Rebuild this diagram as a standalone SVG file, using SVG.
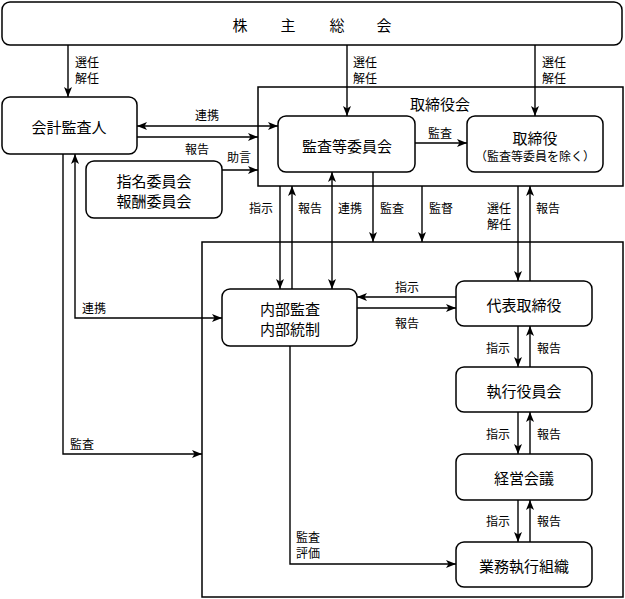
<svg xmlns="http://www.w3.org/2000/svg" width="625" height="599" viewBox="0 0 625 599">
<style>
.box{fill:#fff;stroke:#000;stroke-width:1.5}
.frame{fill:none;stroke:#000;stroke-width:1.5}
.n{font-family:"Noto Sans CJK JP","Noto Sans",sans-serif;font-size:15px;fill:#000;text-anchor:middle;dominant-baseline:central}
.l{font-family:"Noto Sans CJK JP","Noto Sans",sans-serif;font-size:12px;fill:#000;text-anchor:middle;dominant-baseline:central}
.ls{text-anchor:start}
.c{fill:none;stroke:#000;stroke-width:1.4}
.a{marker-end:url(#ah)}
.d{marker-start:url(#ah);marker-end:url(#ah)}
</style>
<defs>
<marker id="ah" viewBox="0 0 10 10" refX="10" refY="5" markerWidth="10" markerHeight="10" markerUnits="userSpaceOnUse" orient="auto-start-reverse">
<path d="M0,1 L10,5 L0,9 L2.5,5 z" fill="#000"/>
</marker>
</defs>

<g id="frames">
<g id="torishimariyakukai">
<rect class="frame" x="258" y="87" width="365" height="99"/>
<text class="n" x="440" y="103">取締役会</text>
</g>
<g id="executive-area">
<rect class="frame" x="202" y="242" width="421" height="355"/>
</g>
</g>

<g id="connectors">
<path class="c a" d="M68,45 V97"/>
<path class="c a" d="M347,45 V116"/>
<path class="c a" d="M535,45 V116"/>
<path class="c d" d="M137,126 H278"/>
<path class="c a" d="M137,137 H258"/>
<path class="c a" d="M222,170 H258"/>
<path class="c a" d="M415,143 H467"/>
<path class="c a" d="M280,186 V289"/>
<path class="c a" d="M292,289 V186"/>
<path class="c d" d="M332,172 V289"/>
<path class="c a" d="M373,172 V242"/>
<path class="c a" d="M422,186 V242"/>
<path class="c a" d="M518,186 V281"/>
<path class="c a" d="M530,281 V186"/>
<path class="c a" d="M456,297 H357"/>
<path class="c a" d="M357,308 H456"/>
<path class="c a" d="M518,326 V367"/>
<path class="c a" d="M530,367 V326"/>
<path class="c a" d="M518,412 V454"/>
<path class="c a" d="M530,454 V412"/>
<path class="c a" d="M518,500 V542"/>
<path class="c a" d="M530,542 V500"/>
<path class="c a" d="M290,346 V564 H456"/>
<path class="c d" d="M75,154 V318 H222"/>
<path class="c a" d="M63,154 V454 H202"/>

<text class="l ls" x="75" y="61">選任</text>
<text class="l ls" x="75" y="77">解任</text>
<text class="l ls" x="353" y="61">選任</text>
<text class="l ls" x="353" y="77">解任</text>
<text class="l ls" x="542" y="61">選任</text>
<text class="l ls" x="542" y="77">解任</text>
<text class="l" x="207" y="114">連携</text>
<text class="l" x="197" y="148">報告</text>
<text class="l" x="239" y="156">助言</text>
<text class="l" x="440" y="132">監査</text>
<text class="l" x="261" y="207">指示</text>
<text class="l" x="310" y="207">報告</text>
<text class="l" x="350" y="207">連携</text>
<text class="l" x="392" y="207">監査</text>
<text class="l" x="441" y="207">監督</text>
<text class="l" x="499" y="207">選任</text>
<text class="l" x="499" y="223">解任</text>
<text class="l" x="548" y="207">報告</text>
<text class="l" x="407" y="286">指示</text>
<text class="l" x="407" y="322">報告</text>
<text class="l" x="498" y="347">指示</text>
<text class="l" x="549" y="347">報告</text>
<text class="l" x="498" y="433">指示</text>
<text class="l" x="549" y="433">報告</text>
<text class="l" x="498" y="520">指示</text>
<text class="l" x="549" y="520">報告</text>
<text class="l ls" x="296" y="536">監査</text>
<text class="l ls" x="296" y="552">評価</text>
<text class="l" x="94" y="307">連携</text>
<text class="l" x="82" y="443">監査</text>
</g>

<g id="kabunushi-sokai">
<rect class="box" x="2" y="2" width="620" height="43" rx="8"/>
<text class="n" x="240" y="24">株</text>
<text class="n" x="288" y="24">主</text>
<text class="n" x="337" y="24">総</text>
<text class="n" x="384" y="24">会</text>
</g>
<g id="kaikei-kansanin">
<rect class="box" x="2" y="97" width="135" height="57" rx="8"/>
<text class="n" x="69" y="126">会計監査人</text>
</g>
<g id="kansa-iinkai">
<rect class="box" x="278" y="116" width="137" height="56" rx="8"/>
<text class="n" x="347" y="145">監査等委員会</text>
</g>
<g id="torishimariyaku">
<rect class="box" x="467" y="116" width="136" height="56" rx="8"/>
<text class="n" x="535" y="137">取締役</text>
<text class="l" x="535" y="155">（監査等委員を除く）</text>
</g>
<g id="shimei-hoshu">
<rect class="box" x="86" y="161" width="136" height="57" rx="8"/>
<text class="n" x="154" y="180">指名委員会</text>
<text class="n" x="154" y="200">報酬委員会</text>
</g>
<g id="naibu-kansa">
<rect class="box" x="222" y="289" width="135" height="57" rx="8"/>
<text class="n" x="290" y="308">内部監査</text>
<text class="n" x="290" y="328">内部統制</text>
</g>
<g id="daihyo">
<rect class="box" x="456" y="281" width="136" height="45" rx="8"/>
<text class="n" x="524" y="304">代表取締役</text>
</g>
<g id="shikko-yakuinkai">
<rect class="box" x="456" y="367" width="136" height="45" rx="8"/>
<text class="n" x="524" y="390">執行役員会</text>
</g>
<g id="keiei-kaigi">
<rect class="box" x="456" y="454" width="136" height="46" rx="8"/>
<text class="n" x="524" y="477">経営会議</text>
</g>
<g id="gyomu-soshiki">
<rect class="box" x="456" y="542" width="136" height="45" rx="8"/>
<text class="n" x="524" y="565">業務執行組織</text>
</g>
</svg>
